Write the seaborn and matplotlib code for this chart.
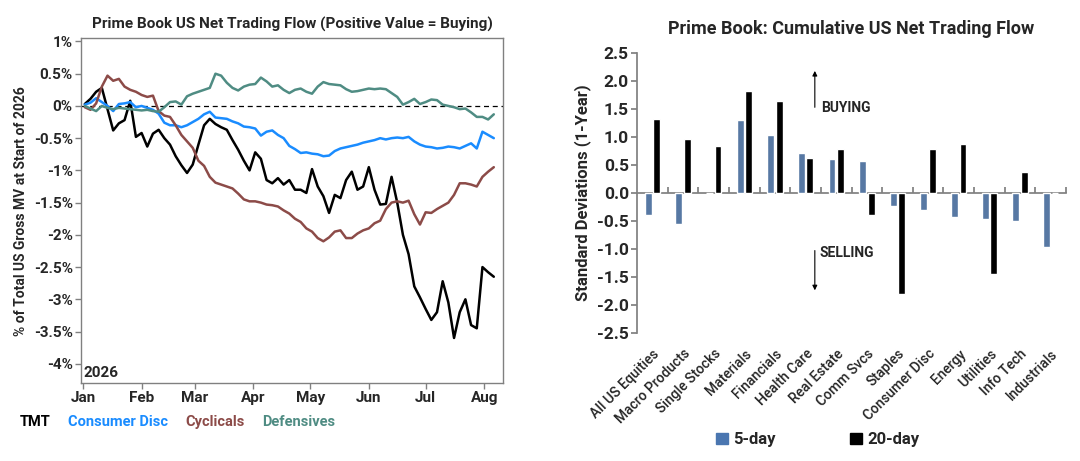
import pandas as pd
import numpy as np
import matplotlib
matplotlib.use('Agg')
import matplotlib.pyplot as plt
import matplotlib.dates as mdates
from matplotlib.lines import Line2D
from matplotlib.patches import Patch
from matplotlib.ticker import FuncFormatter, MultipleLocator
import seaborn as sns

# ---------------- data: left chart (cumulative net flow, % of gross MV) ----------------
dates = pd.date_range('2026-01-02', '2026-08-06', freq='3D')

tmt = [0.03, 0.11, 0.22, 0.28, -0.05, -0.38, -0.27, -0.22, 0.08, -0.48,
       -0.42, -0.63, -0.43, -0.37, -0.50, -0.60, -0.78, -0.92, -1.04, -0.91,
       -0.60, -0.30, -0.20, -0.28, -0.33, -0.37, -0.53, -0.68, -0.85, -1.00,
       -0.72, -0.82, -1.15, -1.20, -1.12, -1.22, -1.15, -1.30, -1.30, -1.35,
       -0.98, -1.25, -1.40, -1.66, -1.38, -1.43, -1.15, -1.02, -1.30, -1.25,
       -0.95, -1.30, -1.53, -1.52, -1.10, -1.50, -2.00, -2.30, -2.80, -2.97,
       -3.15, -3.32, -3.20, -2.72, -3.05, -3.60, -3.20, -3.00, -3.40, -3.45,
       -2.50, -2.58, -2.65]

consumer_disc = [0.02, 0.05, 0.12, 0.06, 0.00, -0.08, 0.03, 0.04, 0.06, -0.02,
                 0.00, -0.03, -0.06, -0.12, -0.26, -0.30, -0.30, -0.33, -0.30, -0.25,
                 -0.20, -0.13, -0.09, -0.18, -0.19, -0.20, -0.24, -0.27, -0.32, -0.33,
                 -0.35, -0.46, -0.40, -0.38, -0.45, -0.50, -0.62, -0.67, -0.73, -0.72,
                 -0.74, -0.75, -0.78, -0.77, -0.70, -0.66, -0.64, -0.62, -0.60, -0.57,
                 -0.55, -0.53, -0.50, -0.52, -0.50, -0.49, -0.50, -0.48, -0.55, -0.60,
                 -0.63, -0.64, -0.66, -0.65, -0.63, -0.64, -0.66, -0.62, -0.58, -0.66,
                 -0.40, -0.45, -0.50]

cyclicals = [-0.02, -0.06, 0.04, 0.30, 0.47, 0.39, 0.42, 0.30, 0.25, 0.22,
             0.17, 0.14, 0.16, -0.08, -0.15, -0.17, -0.30, -0.45, -0.55, -0.65,
             -0.85, -0.93, -1.10, -1.19, -1.22, -1.25, -1.28, -1.36, -1.45, -1.48,
             -1.48, -1.50, -1.53, -1.54, -1.56, -1.62, -1.67, -1.75, -1.80, -1.90,
             -1.95, -2.05, -2.10, -2.04, -1.95, -1.93, -2.05, -2.05, -1.98, -1.93,
             -1.90, -1.82, -1.78, -1.60, -1.50, -1.48, -1.50, -1.47, -1.68, -1.84,
             -1.65, -1.66, -1.60, -1.55, -1.50, -1.38, -1.20, -1.20, -1.22, -1.25,
             -1.10, -1.02, -0.95]

defensives = [0.00, -0.04, -0.08, 0.00, -0.03, -0.05, -0.03, -0.04, -0.05, -0.06,
              -0.07, -0.06, -0.08, -0.09, -0.02, 0.06, 0.07, 0.02, 0.15, 0.19,
              0.22, 0.25, 0.28, 0.50, 0.47, 0.36, 0.28, 0.24, 0.30, 0.33,
              0.34, 0.44, 0.38, 0.30, 0.32, 0.25, 0.20, 0.25, 0.27, 0.22,
              0.19, 0.30, 0.37, 0.34, 0.33, 0.32, 0.26, 0.22, 0.23, 0.25,
              0.27, 0.26, 0.27, 0.26, 0.20, 0.14, 0.02, 0.06, 0.11, 0.03,
              0.06, 0.10, 0.09, 0.02, 0.00, -0.02, -0.05, -0.04, -0.10, -0.17,
              -0.17, -0.21, -0.13]

# ---------------- data: right chart (z-scores) ----------------
sectors = ['All US Equities', 'Macro Products', 'Single Stocks', 'Materials', 'Financials',
           'Health Care', 'Real Estate', 'Comm Svcs', 'Staples', 'Consumer Disc',
           'Energy', 'Utilities', 'Info Tech', 'Industrials']
five_day = [-0.39, -0.55, 0.0, 1.31, 1.03, 0.71, 0.61, 0.57, -0.23, -0.30, -0.43, -0.46, -0.51, -0.96]
twenty_day = [1.32, 0.97, 0.83, 1.83, 1.65, 0.63, 0.78, -0.40, -1.80, 0.78, 0.88, -1.45, 0.37, 0.0]

line_colors = {'TMT': '#000000', 'Consumer Disc': '#1a8cff',
               'Cyclicals': '#8c4b48', 'Defensives': '#4f8c83'}
bar_colors = {'5-day': '#4a76b0', '20-day': '#000000'}

sns.set_theme(style='white')
plt.rcParams['font.family'] = ['Roboto', 'DejaVu Sans']

fig = plt.figure(figsize=(10.8, 4.61), dpi=100)
ax1 = fig.add_axes([0.075, 0.169, 0.391, 0.748])
ax2 = fig.add_axes([0.590, 0.278, 0.397, 0.607])

# ---------------------------- left: net trading flow lines ----------------------------
flow = pd.DataFrame({'date': dates, 'TMT': tmt, 'Consumer Disc': consumer_disc,
                     'Cyclicals': cyclicals, 'Defensives': defensives})
flow = flow.melt(id_vars='date', var_name='sector', value_name='flow')
sns.lineplot(data=flow, x='date', y='flow', hue='sector', palette=line_colors,
             linewidth=1.8, legend=False, ax=ax1)
ax1.axhline(0, color='black', linestyle=(0, (4, 3)), linewidth=0.9, zorder=0)

ax1.set_xlim(pd.Timestamp('2025-12-31'), pd.Timestamp('2026-08-11'))
ax1.set_ylim(-4.3, 1.05)
ax1.yaxis.set_major_locator(MultipleLocator(0.5))
ax1.yaxis.set_major_formatter(FuncFormatter(lambda v, p: f'{v:g}%'))
ax1.xaxis.set_major_locator(mdates.MonthLocator())
ax1.xaxis.set_major_formatter(mdates.DateFormatter('%b'))
ax1.tick_params(axis='both', which='major', length=4, width=1, color='#808080',
                direction='out', labelsize=11, bottom=True, left=True, pad=2)
for lab in ax1.get_xticklabels() + ax1.get_yticklabels():
    lab.set_fontweight('bold')
for sp in ax1.spines.values():
    sp.set_color('#808080')
    sp.set_linewidth(1)
ax1.set_xlabel('')
ax1.set_ylabel('% of Total US Gross MV at Start of 2026', fontsize=10, fontweight='bold',
               labelpad=4)
ax1.set_title('Prime Book US Net Trading Flow (Positive Value = Buying)',
              fontsize=11, fontweight='bold', pad=7)
ax1.text(0.005, 0.008, '2026', transform=ax1.transAxes, fontsize=11,
         fontweight='bold', ha='left', va='bottom')

handles = [Line2D([], [], color=c) for c in line_colors.values()]
fig.legend(handles, list(line_colors.keys()), loc='center left',
           bbox_to_anchor=(0.006, 0.085), ncol=4, frameon=False,
           handlelength=0, handletextpad=0, columnspacing=1.2,
           labelcolor='linecolor', prop={'weight': 'bold', 'size': 10.5})

# ---------------------------- right: z-score bars ----------------------------
bars = pd.DataFrame({'sector': sectors * 2,
                     'window': ['5-day'] * len(sectors) + ['20-day'] * len(sectors),
                     'z': five_day + twenty_day})
sns.barplot(data=bars, x='sector', y='z', hue='window', palette=bar_colors,
            width=0.56, gap=0.2, legend=False, ax=ax2)

ax2.set_xlim(-0.5, len(sectors) - 0.5)
ax2.set_ylim(-2.5, 2.5)
ax2.yaxis.set_major_locator(MultipleLocator(0.5))
ax2.yaxis.set_major_formatter(FuncFormatter(lambda v, p: f'{v:.1f}'))
for side in ['top', 'right', 'bottom']:
    ax2.spines[side].set_visible(False)
ax2.spines['left'].set_color('#808080')
ax2.tick_params(axis='y', length=4, color='#808080', direction='out', left=True,
                labelsize=12.5, pad=2)
for lab in ax2.get_yticklabels():
    lab.set_fontweight('bold')
ax2.tick_params(axis='x', length=0, pad=10, labelsize=10)
ax2.set_xticks(range(len(sectors)))
ax2.set_xticklabels(sectors, rotation=45, ha='right', rotation_mode='anchor',
                    fontweight='medium')
ax2.set_xlabel('')
ax2.set_ylabel('Standard Deviations (1-Year)', fontsize=12, fontweight='bold', labelpad=4)
ax2.set_title('Prime Book: Cumulative US Net Trading Flow', fontsize=13,
              fontweight='bold', pad=14)

zero_axis = ax2.secondary_xaxis(0.5)
zero_axis.set_xticks(np.arange(0.5, len(sectors), 1))
zero_axis.set_xticklabels([])
zero_axis.tick_params(length=4, color='#808080', direction='out')
for sp in zero_axis.spines.values():
    sp.set_color('#808080')

ax2.annotate('', xy=(5.3, 2.23), xytext=(5.3, 1.48),
             arrowprops=dict(arrowstyle='-|>', color='black', lw=0.8, mutation_scale=7))
ax2.text(5.5, 1.52, 'BUYING', fontsize=10, fontweight='bold', va='center')
ax2.annotate('', xy=(5.3, -1.79), xytext=(5.3, -0.98),
             arrowprops=dict(arrowstyle='-|>', color='black', lw=0.8, mutation_scale=7))
ax2.text(5.45, -1.07, 'SELLING', fontsize=10, fontweight='bold', va='center')

patches = [Patch(color=c) for c in bar_colors.values()]
fig.legend(patches, list(bar_colors.keys()), loc='center', bbox_to_anchor=(0.757, 0.046),
           ncol=2, frameon=False, handlelength=0.7, handleheight=0.7,
           handletextpad=0.3, columnspacing=4.5, prop={'weight': 'bold', 'size': 12})

fig.savefig('out.png', dpi=100)
